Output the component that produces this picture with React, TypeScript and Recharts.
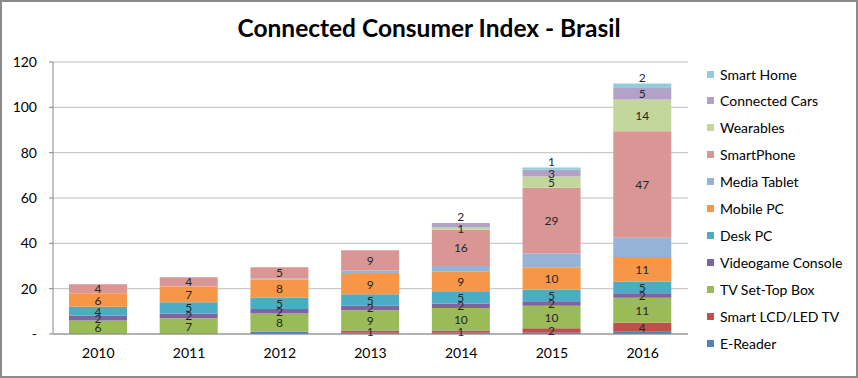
import React from 'react';
import { BarChart, Bar, XAxis, YAxis, CartesianGrid, LabelList } from 'recharts';

const years = ['2010', '2011', '2012', '2013', '2014', '2015', '2016'];
const eReader = [0, 0, 1, 0.5, 0.5, 0.5, 1];
const smartTv = [0, 0, 0, 1, 1, 2, 4];
const setTopBox = [6, 7, 8, 9, 10, 10, 11];
const videogame = [2, 2, 2, 2, 2, 2, 2];
const deskPc = [4, 5, 5, 5, 5, 5, 5];
const mobilePc = [6, 7, 8, 9, 9, 10, 11];
const mediaTablet = [0, 0, 0.5, 1.5, 2.5, 6, 8.5];
const smartPhone = [4, 4, 5, 9, 16, 29, 47];
const wearables = [0, 0, 0, 0, 1, 5, 14];
const connectedCars = [0, 0, 0, 0, 2, 3, 5];
const smartHome = [0, 0, 0, 0, 0, 1, 2];
const yTicks = [0, 20, 40, 60, 80, 100, 120];

const series = [
  { key: 'eReader', name: 'E-Reader', values: eReader, color: '#4F81BD', labeled: false },
  { key: 'smartTv', name: 'Smart LCD/LED TV', values: smartTv, color: '#C0504D', labeled: true },
  { key: 'setTopBox', name: 'TV Set-Top Box', values: setTopBox, color: '#9BBB59', labeled: true },
  { key: 'videogame', name: 'Videogame Console', values: videogame, color: '#8064A2', labeled: true },
  { key: 'deskPc', name: 'Desk PC', values: deskPc, color: '#4BACC6', labeled: true },
  { key: 'mobilePc', name: 'Mobile PC', values: mobilePc, color: '#F79646', labeled: true },
  { key: 'mediaTablet', name: 'Media Tablet', values: mediaTablet, color: '#95B3D7', labeled: false },
  { key: 'smartPhone', name: 'SmartPhone', values: smartPhone, color: '#D99694', labeled: true },
  { key: 'wearables', name: 'Wearables', values: wearables, color: '#C3D69B', labeled: true },
  { key: 'connectedCars', name: 'Connected Cars', values: connectedCars, color: '#B3A2C7', labeled: true },
  { key: 'smartHome', name: 'Smart Home', values: smartHome, color: '#93CDDD', labeled: true },
];

const data = years.map((year, i) => {
  const row: Record<string, any> = { year, yi: i };
  series.forEach((s) => {
    row[s.key] = s.values[i];
  });
  return row;
});

const topIndex = years.map((_, i) => {
  let top = -1;
  series.forEach((s, si) => {
    if (s.values[i] > 0) top = si;
  });
  return top;
});

const FONT = 'Lato, "Open Sans", sans-serif';

const makeAccessor = (key: string) => (entry: any) => {
  const p = entry && entry.payload ? entry.payload : {};
  return `${p.yi}|${p[key]}`;
};

const makeLabel = (si: number) => (props: any) => {
  const vb = props.viewBox && props.viewBox.width !== undefined ? props.viewBox : props;
  const parts = String(props.value).split('|');
  const yi = Number(parts[0]);
  const value = Number(parts[1]);
  if (!value) return null;
  const x = Number(vb.x);
  const w = Number(vb.width);
  const h = Number(vb.height);
  const yTop = Math.min(Number(vb.y), Number(vb.y) + h);
  const cx = x + w / 2;
  let cy = yTop + Math.abs(h) / 2;
  if (topIndex[yi] === si && Math.abs(h) < 6) cy = yTop - 6;
  return (
    <text x={cx} y={cy} textAnchor="middle" dominantBaseline="central" fontSize={12} fill="#262626" fontFamily={FONT}>
      {value}
    </text>
  );
};

const legendItems = [...series].reverse();

export default function App() {
  return (
    <div
      style={{
        position: 'absolute',
        left: 0,
        top: 0,
        width: 858,
        height: 378,
        boxSizing: 'border-box',
        border: '2px solid #8a8a8a',
        background: '#fff',
        fontFamily: FONT,
      }}
    >
      <div
        style={{
          position: 'absolute',
          left: -2,
          top: 11,
          width: 858,
          textAlign: 'center',
          fontSize: 24.5,
          fontWeight: 700,
          color: '#000',
        }}
      >
        Connected Consumer Index - Brasil
      </div>
      <div style={{ position: 'absolute', left: -2, top: -2 }}>
        <BarChart width={858} height={378} data={data} margin={{ top: 62, right: 170, left: 13, bottom: 14 }}>
          <CartesianGrid vertical={false} stroke="#bfbfbf" />
          <XAxis
            dataKey="year"
            tickLine={false}
            axisLine={{ stroke: '#868686' }}
            tickMargin={8}
            tick={{ fontSize: 14, fill: '#000', fontFamily: FONT }}
          />
          <YAxis
            width={40}
            domain={[0, 120]}
            ticks={yTicks}
            interval={0}
            axisLine={{ stroke: '#868686' }}
            tickLine={{ stroke: '#868686' }}
            tickSize={4}
            tickMargin={12}
            tickFormatter={(v: number) => (v === 0 ? '-' : String(v))}
            tick={{ fontSize: 14, fill: '#000', fontFamily: FONT }}
          />
          {series.map((s, si) => (
            <Bar key={s.key} dataKey={s.key} name={s.name} stackId="a" fill={s.color} barSize={58} isAnimationActive={false}>
              {s.labeled ? <LabelList valueAccessor={makeAccessor(s.key)} content={makeLabel(si)} /> : null}
            </Bar>
          ))}
        </BarChart>
      </div>
      <div style={{ position: 'absolute', left: 705, top: 62 }}>
        {legendItems.map((s, i) => (
          <div
            key={s.key}
            style={{
              position: 'absolute',
              left: 0,
              top: i * 26.9,
              height: 20,
              display: 'flex',
              alignItems: 'center',
              whiteSpace: 'nowrap',
              fontSize: 14,
              color: '#000',
            }}
          >
            <span style={{ display: 'inline-block', width: 7, height: 7, background: s.color, marginRight: 6 }} />
            {s.name}
          </div>
        ))}
      </div>
    </div>
  );
}
